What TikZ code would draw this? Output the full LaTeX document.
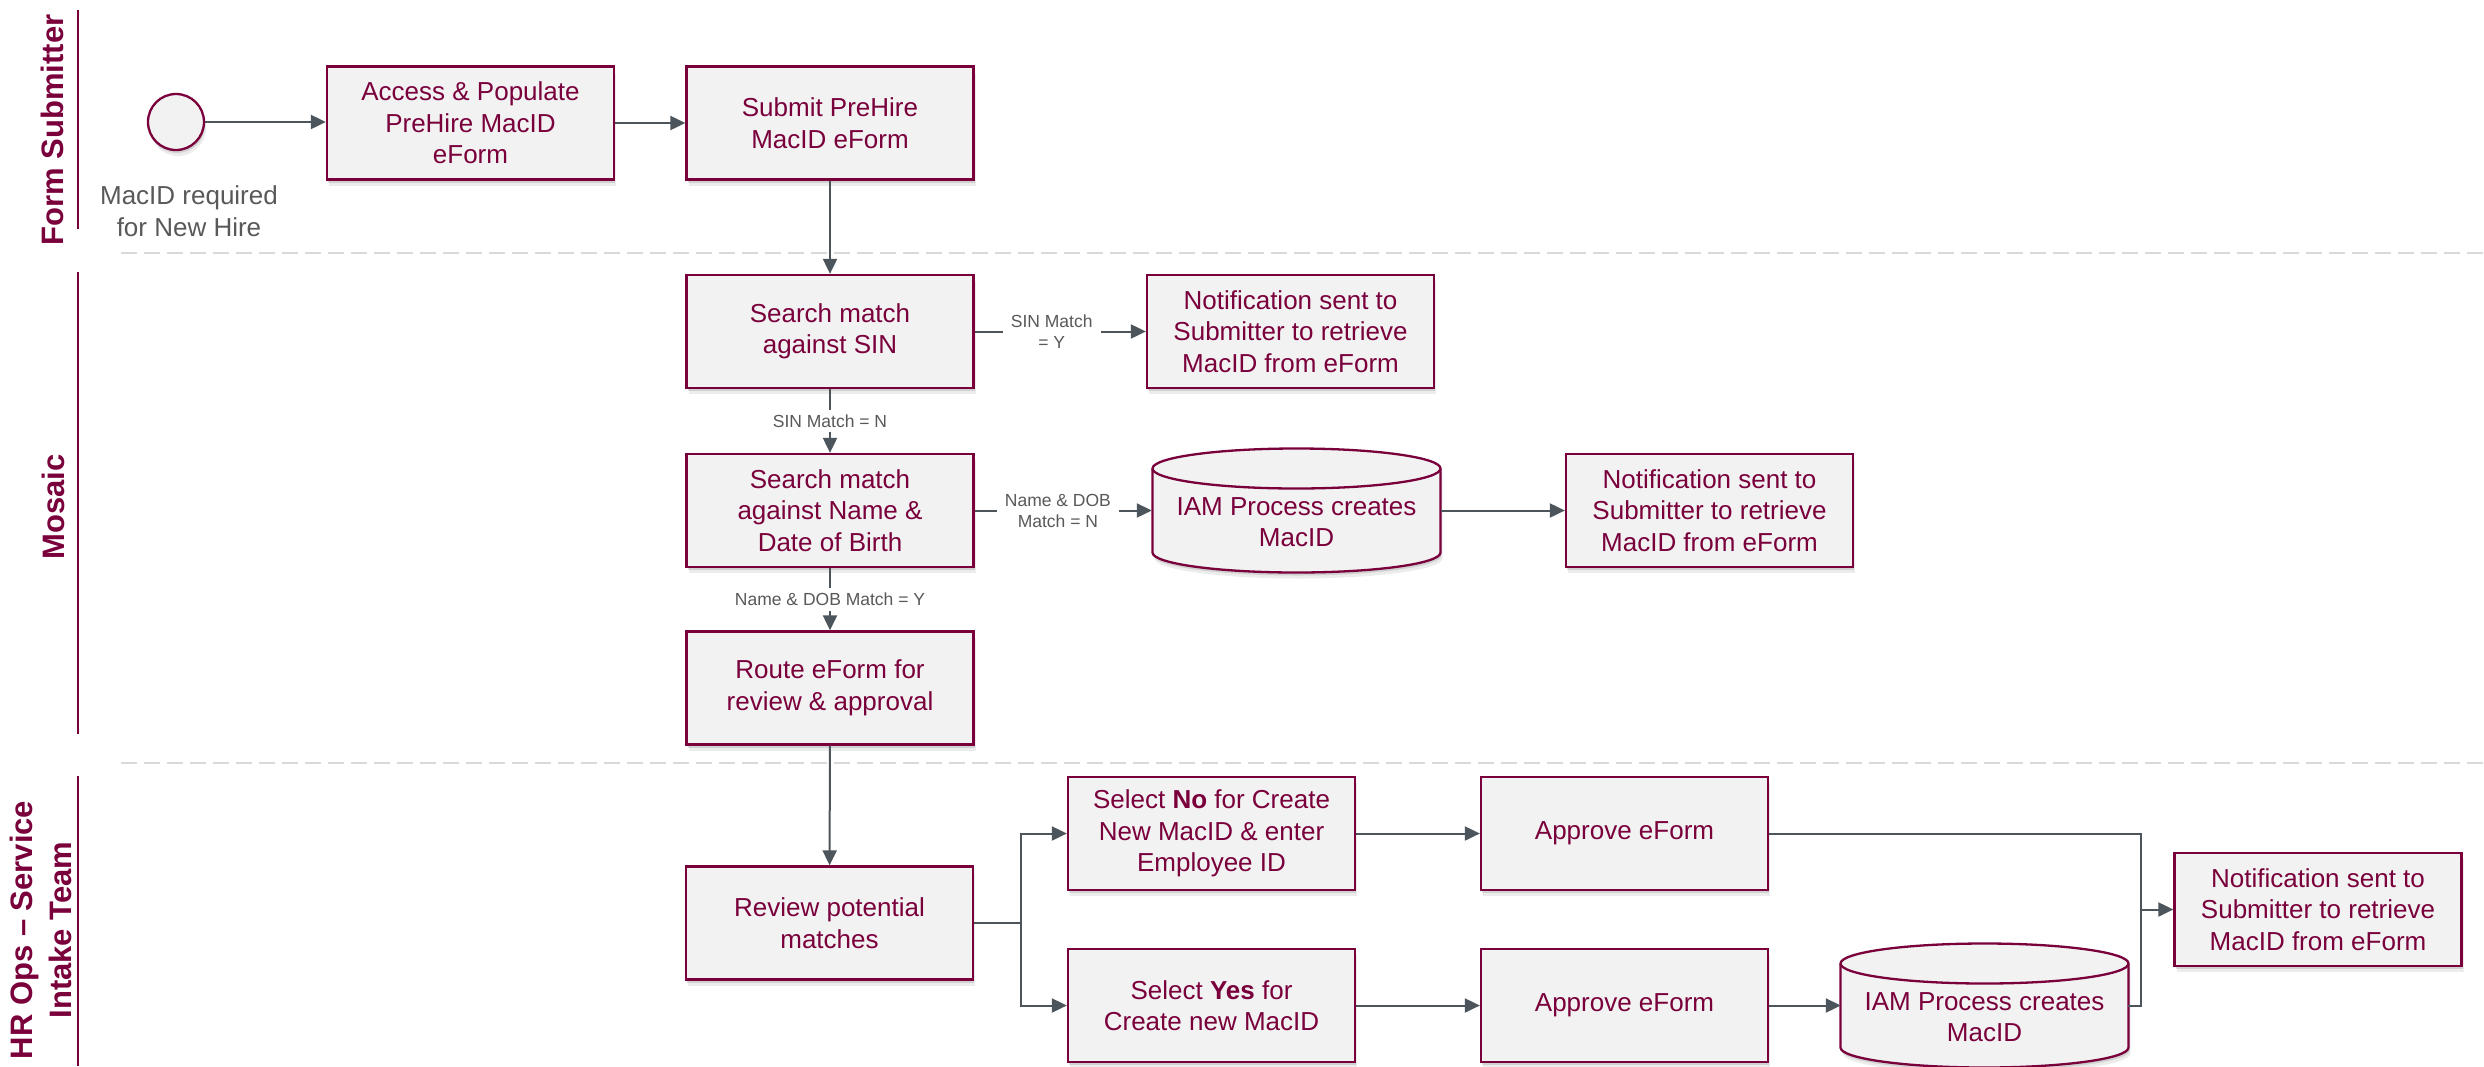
\documentclass[tikz,border=0pt]{standalone}
\usepackage{fontspec}
\setmainfont{Liberation Sans}
\usetikzlibrary{arrows.meta,shadows,calc}
\definecolor{maroon}{HTML}{7A003C}
\definecolor{boxgray}{HTML}{F2F2F2}
\definecolor{linegray}{HTML}{4D555C}
\definecolor{labgray}{HTML}{595959}
\definecolor{dashgray}{HTML}{D9D9D9}
\newcommand\boxfont{\fontsize{26}{31.5}\selectfont}
\newcommand\labfont{\fontsize{17.5}{21}\selectfont}
\newcommand\lanefont{\fontsize{31}{39}\selectfont\bfseries}
\tikzset{
 shad/.style={drop shadow={shadow xshift=2pt, shadow yshift=-6pt, opacity=0.12, fill=black!60},
              drop shadow={shadow xshift=1pt, shadow yshift=-3pt, opacity=0.2, fill=black!60}},
 box/.style={draw=maroon, line width=2.3pt, fill=boxgray, minimum width=287pt, minimum height=113pt, inner sep=0pt, align=center, text=maroon, font=\boxfont, shad},
 conn/.style={draw=linegray, line width=2pt, -{Triangle[length=15pt,width=14pt]}},
 plainline/.style={draw=linegray, line width=2pt},
 clabel/.style={fill=white, text=labgray, font=\labfont, align=center, inner xsep=8pt, inner ysep=5pt},
 lane/.style={text=maroon, font=\lanefont, rotate=90, align=center},
 laneline/.style={draw=maroon, line width=2pt},
 sepline/.style={draw=dashgray, line width=2pt, dash pattern=on 16pt off 7pt},
 cyltext/.style={text=maroon, font=\boxfont, align=center, inner sep=0pt},
 cylpic/.pic={
  \path[draw=maroon, line width=2.3pt, fill=boxgray, shad] (-144,-42) -- (-144,42) .. controls (-144,53) and (-79.5,62) .. (0,62) .. controls (79.5,62) and (144,53) .. (144,42) -- (144,-42) .. controls (144,-53) and (79.5,-62) .. (0,-62) .. controls (-79.5,-62) and (-144,-53) .. (-144,-42) -- cycle;
  \draw[maroon, line width=2.3pt] (-144,-42) .. controls (-144,-31) and (-79.5,-22) .. (0,-22) .. controls (79.5,-22) and (144,-31) .. (144,-42);
 },
}
\begin{document}
\begin{tikzpicture}[x=1pt,y=-1pt]
\fill[white] (0,0) rectangle (2484,1066);
\useasboundingbox (0,0) rectangle (2484,1066);

% lanes
\draw[laneline] (78,10) -- (78,229);
\draw[laneline] (78,272) -- (78,734);
\draw[laneline] (78,776) -- (78,1066);
\node[lane] (l1) at (52,130) {Form Submitter};
\node[lane] (l2) at (53,507) {Mosaic};
\node[lane] (l3) at (41,930) {HR Ops – Service\\Intake Team};
\draw[sepline] (121,253) -- (2484,253);
\draw[sepline] (121,763) -- (2484,763);

% nodes
\node[circle, draw=maroon, line width=2.3pt, fill=boxgray, minimum size=56pt, inner sep=0pt, shad] (start) at (176,122) {};
\node[text=labgray, font=\boxfont, align=center] (startlab) at (189,211) {MacID required\\for New Hire};
\node[box] (b1) at (470.5,123) {Access \& Populate\\PreHire MacID\\eForm};
\node[box] (b2) at (830,123) {Submit PreHire\\MacID eForm};
\node[box] (b3) at (830,331.5) {Search match\\against SIN};
\node[box] (n1) at (1290.5,331.5) {Notification sent to\\Submitter to retrieve\\MacID from eForm};
\node[box] (b4) at (830,510.5) {Search match\\against Name \&\\Date of Birth};
\pic at (1296.5,510.5) {cylpic};
\node[minimum width=289pt, minimum height=124pt, inner sep=0pt] (c1) at (1296.5,510.5) {};
\node[cyltext] (c1t) at (1296.5,522) {IAM Process creates\\MacID};
\node[box] (n2) at (1709.5,510.5) {Notification sent to\\Submitter to retrieve\\MacID from eForm};
\node[box] (b5) at (830,688) {Route eForm for\\review \& approval};
\node[box] (b6) at (829.5,923) {Review potential\\matches};
\node[box] (b7) at (1211.5,833.5) {Select \textbf{No} for Create\\New MacID \& enter\\Employee ID};
\node[box] (b9) at (1624.5,833.5) {Approve eForm};
\node[box] (b8) at (1211.5,1005.5) {Select \textbf{Yes} for\\Create new MacID};
\node[box] (b10) at (1624.5,1005.5) {Approve eForm};
\pic at (1984.5,1005.5) {cylpic};
\node[minimum width=287pt, minimum height=124pt, inner sep=0pt] (c2) at (1984.5,1005.5) {};
\node[cyltext] (c2t) at (1984.5,1017) {IAM Process creates\\MacID};
\node[box] (n3) at (2318,909.5) {Notification sent to\\Submitter to retrieve\\MacID from eForm};

% connectors
\draw[conn] (start.east) -- (start.east -| b1.west);
\draw[conn] (b1) -- (b2);
\draw[conn] (b2) -- (b3);
\draw[conn] (b3) -- node[clabel, pos=0.45] {SIN Match\\= Y} (n1);
\draw[conn] (b3) -- node[clabel] {SIN Match = N} (b4);
\draw[conn] (b4) -- node[clabel, pos=0.47] {Name \& DOB\\Match = N} (c1);
\draw[conn] (c1) -- (n2);
\draw[conn] (b4) -- node[clabel] {Name \& DOB Match = Y} (b5);
\draw[conn] (b5) -- (b6);
\draw[conn] (b6.east) -- ++(47,0) coordinate (br) |- (b7.west);
\draw[conn] (br) |- (b8.west);
\draw[conn] (b7) -- (b9);
\draw[conn] (b8) -- (b10);
\draw[conn] (b10) -- (c2);
\coordinate (mg) at (2141,909.5);
\draw[plainline] (b9.east) -| (mg);
\draw[plainline] (c2.east) -| (mg);
\draw[conn] (mg) -- (n3.west);
\end{tikzpicture}
\end{document}
